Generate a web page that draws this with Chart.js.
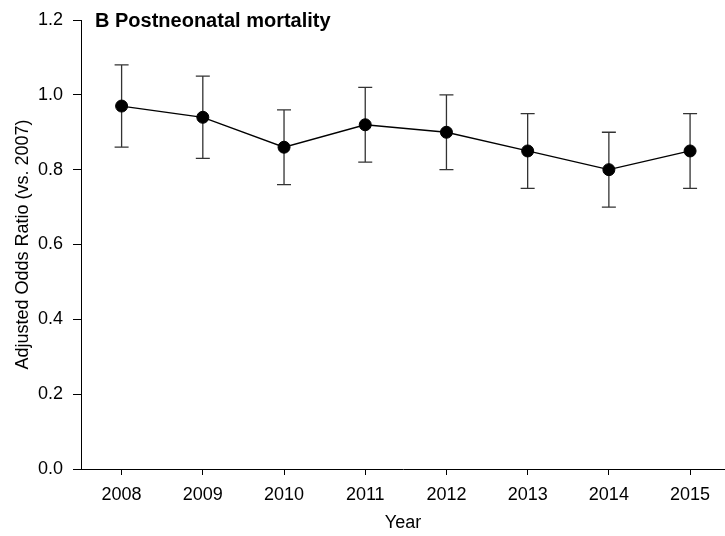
<!DOCTYPE html>
<html>
<head>
<meta charset="UTF-8">
<script src="https://cdn.jsdelivr.net/npm/chart.js"></script>
<style>
  html, body { margin: 0; padding: 0; background: #fff; overflow: hidden; }
  #wrap { width: 725px; height: 536px; }
</style>
</head>
<body>
<div id="wrap"><canvas id="c"></canvas></div>
<script>
// data
const years = [2008, 2009, 2010, 2011, 2012, 2013, 2014, 2015];
const oddsRatio = [0.97, 0.94, 0.86, 0.92, 0.90, 0.85, 0.80, 0.85];
const ciLower = [0.86, 0.83, 0.76, 0.82, 0.80, 0.75, 0.70, 0.75];
const ciUpper = [1.08, 1.05, 0.96, 1.02, 1.00, 0.95, 0.90, 0.95];
const yTicks = [0.0, 0.2, 0.4, 0.6, 0.8, 1.0, 1.2];

const FONT = "'Liberation Sans', Arial, sans-serif";

// error bars drawn behind the points, via the scales
const errorBars = {
  id: 'errorBars',
  beforeDatasetsDraw(chart) {
    const ctx = chart.ctx;
    const xs = chart.scales.x, ys = chart.scales.y;
    ctx.save();
    ctx.strokeStyle = '#333';
    ctx.lineWidth = 1.3;
    years.forEach((yr, i) => {
      const x = xs.getPixelForValue(yr);
      const y1 = ys.getPixelForValue(ciLower[i]);
      const y2 = ys.getPixelForValue(ciUpper[i]);
      ctx.beginPath();
      ctx.moveTo(x, y1); ctx.lineTo(x, y2);
      ctx.moveTo(x - 7, y1); ctx.lineTo(x + 7, y1);
      ctx.moveTo(x - 7, y2); ctx.lineTo(x + 7, y2);
      ctx.stroke();
    });
    ctx.restore();
  }
};

// panel title inside the plot area
const panelTitle = {
  id: 'panelTitle',
  afterDraw(chart) {
    const ctx = chart.ctx;
    const a = chart.chartArea;
    ctx.save();
    ctx.fillStyle = '#000';
    ctx.font = "bold 20px " + FONT;
    ctx.textBaseline = 'middle';
    ctx.fillText('B Postneonatal mortality', a.left + 14, a.top + 1);
    ctx.restore();
  }
};

new Chart(document.getElementById('c'), {
  type: 'line',
  data: {
    datasets: [{
      data: years.map((y, i) => ({ x: y, y: oddsRatio[i] })),
      borderColor: '#000',
      borderWidth: 1.3,
      pointBackgroundColor: '#000',
      pointBorderColor: '#000',
      pointBorderWidth: 1,
      pointRadius: 6,
      tension: 0,
      fill: false,
      clip: false
    }]
  },
  options: {
    responsive: true,
    maintainAspectRatio: false,
    animation: false,
    layout: { autoPadding: false, padding: { top: 20, right: 0, left: 0, bottom: 2 } },
    plugins: { legend: { display: false }, tooltip: { enabled: false } },
    scales: {
      x: {
        type: 'linear',
        min: 2007.5,
        max: 2015.43,
        afterBuildTicks: s => { s.ticks = years.map(v => ({ value: v })); },
        afterFit: s => { s.height = 65; s.paddingLeft = 0; s.paddingRight = 0; },
        grid: { drawOnChartArea: false, drawTicks: true, tickLength: 6, color: '#000' },
        border: { display: true, color: '#000', width: 1 },
        ticks: { color: '#000', font: { family: FONT, size: 18 }, padding: 9, callback: v => String(v) },
        title: { display: true, text: 'Year', color: '#000', font: { family: FONT, size: 18 }, padding: { top: 6, bottom: 0 } }
      },
      y: {
        min: 0,
        max: 1.2,
        afterBuildTicks: s => { s.ticks = yTicks.map(v => ({ value: v })); },
        afterFit: s => { s.width = 81; s.paddingTop = 0; s.paddingBottom = 0; },
        grid: { drawOnChartArea: false, drawTicks: true, tickLength: 8, color: '#000' },
        border: { display: true, color: '#000', width: 1 },
        ticks: { color: '#000', font: { family: FONT, size: 18 }, padding: 10, callback: v => v.toFixed(1) },
        title: { display: true, text: 'Adjusted Odds Ratio (vs. 2007)', color: '#000', font: { family: FONT, size: 18 }, padding: { top: 12, bottom: 0 } }
      }
    }
  },
  plugins: [errorBars, panelTitle]
});
</script>
</body>
</html>
